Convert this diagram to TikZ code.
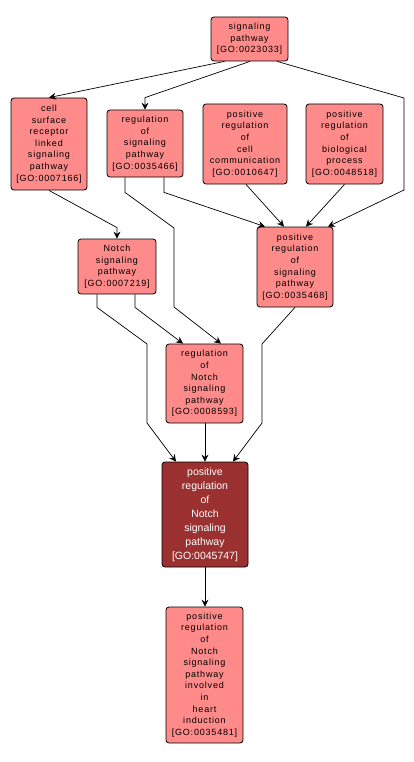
\documentclass[tikz,border=0pt]{standalone}
\usepackage{fontspec}
\setmainfont{Liberation Sans}
\newfontfamily\lsfont[LetterSpace=9]{Liberation Sans}
\usetikzlibrary{arrows.meta}
\definecolor{lightnode}{RGB}{255,138,138}
\definecolor{darknode}{RGB}{155,48,48}
\tikzset{
  gobox/.style={draw=black, line width=0.8pt, rounded corners=3pt, fill=lightnode,
    inner sep=0pt, align=center, font=\lsfont\fontsize{9}{11.6}\selectfont, text=black},
  godark/.style={gobox, fill=darknode, text=white, font=\fontsize{10.5}{14}\selectfont},
  edge/.style={draw=black, line width=0.7pt, -{Stealth[length=7pt,width=7pt,inset=2.5pt]}},
}
\begin{document}
\begin{tikzpicture}[x=1pt,y=-1pt]
\useasboundingbox (0,0) rectangle (413,762);
\fill[white] (0,0) rectangle (413,762);
\node[gobox, minimum width=77pt, minimum height=44pt] (sp) at (249.5,39) {signaling\\pathway\\{[}GO:0023033{]}};
\node[gobox, minimum width=76pt, minimum height=92pt] (csr) at (49,144) {cell\\surface\\receptor\\linked\\signaling\\pathway\\{[}GO:0007166{]}};
\node[gobox, minimum width=76pt, minimum height=67pt] (rsp) at (145,143.5) {regulation\\of\\signaling\\pathway\\{[}GO:0035466{]}};
\node[gobox, minimum width=84pt, minimum height=80pt] (prcc) at (245,144) {positive\\regulation\\of\\cell\\communication\\{[}GO:0010647{]}};
\node[gobox, minimum width=77pt, minimum height=80pt] (prbp) at (344.5,144) {positive\\regulation\\of\\biological\\process\\{[}GO:0048518{]}};
\node[gobox, minimum width=78pt, minimum height=55pt] (notch) at (117,266.5) {Notch\\signaling\\pathway\\{[}GO:0007219{]}};
\node[gobox, minimum width=76pt, minimum height=80pt] (prsp) at (295,267) {positive\\regulation\\of\\signaling\\pathway\\{[}GO:0035468{]}};
\node[gobox, minimum width=77pt, minimum height=79pt] (rnsp) at (204.5,383.5) {regulation\\of\\Notch\\signaling\\pathway\\{[}GO:0008593{]}};
\node[godark, minimum width=86pt, minimum height=105pt] (prnsp) at (205,514.5) {positive\\regulation\\of\\Notch\\signaling\\pathway\\{[}GO:0045747{]}};
\node[gobox, minimum width=77pt, minimum height=136pt] (heart) at (204.5,675) {positive\\regulation\\of\\Notch\\signaling\\pathway\\involved\\in\\heart\\induction\\{[}GO:0035481{]}};

\coordinate (b1) at (404,98);
\coordinate (b2) at (404,190);
\coordinate (b3) at (174,228);
\coordinate (b4) at (174,307);
\coordinate (b5) at (147,344);
\coordinate (b6) at (147,423);
\coordinate (b7) at (262,344);
\coordinate (b8) at (262,423);

\draw[edge] ([xshift=-25pt]sp.south) -- (csr.north);
\draw[edge] ([xshift=0.5pt]sp.south) -- ([yshift=12pt]rsp.north) -- (rsp.north);
\draw[edge] ([xshift=27.5pt]sp.south) -- (b1) -- (b2) -- ([xshift=33pt]prsp.north);
\draw[edge] (csr.south) -- ([yshift=11pt]notch.north) -- (notch.north);
\draw[edge] ([xshift=19pt]rsp.south) -- ++(0,15) -- ([xshift=-30pt]prsp.north);
\draw[edge] ([xshift=-20pt]rsp.south) -- ++(0,15) -- (b3) -- (b4) -- ([xshift=16.5pt]rnsp.north);
\draw[edge] ([xshift=1pt]prcc.south) -- ([xshift=-11pt]prsp.north);
\draw[edge] (prbp.south) -- ([xshift=11pt]prsp.north);
\draw[edge] ([xshift=18pt]notch.south) -- ++(0,13) -- ([xshift=-21.5pt]rnsp.north);
\draw[edge] ([xshift=-20pt]notch.south) -- ++(0,13) -- (b5) -- (b6) -- ([xshift=-29pt]prnsp.north);
\draw[edge] (prnsp.north |- rnsp.south) -- (prnsp.north);
\draw[edge] (prsp.south) -- (b7) -- (b8) -- ([xshift=28pt]prnsp.north);
\draw[edge] (prnsp.south) -- (heart.north -| prnsp.south);
\end{tikzpicture}
\end{document}
